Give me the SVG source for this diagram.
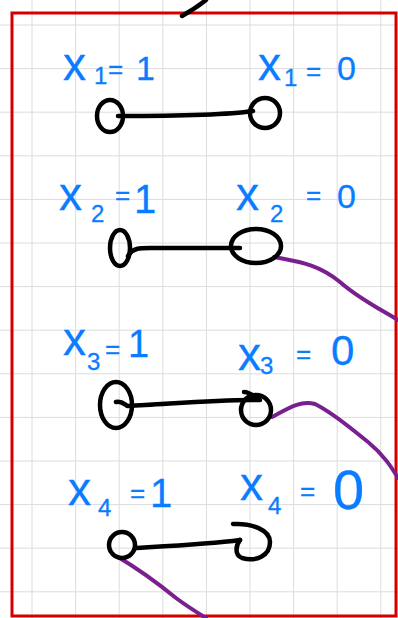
<svg xmlns="http://www.w3.org/2000/svg" width="398" height="618" viewBox="0 0 398 618">
<style>
.grid{stroke:#dcdcdc;stroke-width:1}
.ink{fill:none;stroke:#000;stroke-width:4.5;stroke-linecap:round;stroke-linejoin:round}
.wire{fill:none;stroke:#7a1f8e;stroke-width:4;stroke-linecap:round;stroke-linejoin:round}
.lbl{font-family:"Liberation Sans",Arial,sans-serif;font-size:46px;fill:#0a7cff;stroke:#0a7cff;stroke-width:0.3}
.sub{font-size:24px}
.eq{font-size:26px}
.d{font-size:34px}
</style>
<rect width="398" height="618" fill="#fff"/>
<g id="grid">
<path class="grid" d="M32 0V618M75.6 0V618M119.2 0V618M162.8 0V618M206.4 0V618M250 0V618M293.6 0V618M337.2 0V618M380.8 0V618"/>
<path class="grid" d="M0 25H398M0 68.6H398M0 112.2H398M0 155.8H398M0 199.4H398M0 243H398M0 286.6H398M0 330.2H398M0 373.8H398M0 417.4H398M0 461H398M0 504.6H398M0 548.2H398M0 591.8H398"/>
</g>
<rect x="12" y="13" width="384" height="603" fill="none" stroke="#d40000" stroke-width="3"/>
<path class="ink" d="M182 16 Q196 8 206 0" stroke-width="3"/>

<g id="connectors">
<path class="wire" d="M274 257 C300 262 318 264 340 282 C358 298 378 308 398 320"/>
<path class="wire" d="M272 417 C290 407 302 400 315 404 C335 414 350 428 368 442 C384 455 392 468 398 478"/>
<path class="wire" d="M118 557 C140 570 160 585 176 598 C188 607 198 613 206 618"/>
</g>

<g id="row1">
<text class="lbl" x="63" y="80">x<tspan class="sub" x="94" y="84">1</tspan><tspan class="eq" x="108" y="78">=</tspan><tspan class="d" x="136" y="80">1</tspan></text>
<text class="lbl" x="258" y="80">x<tspan class="sub" x="284" y="86">1</tspan><tspan class="eq" x="306" y="80">=</tspan><tspan class="d" x="337" y="80">0</tspan></text>
<ellipse class="ink" cx="110" cy="116" rx="13" ry="16"/>
<circle class="ink" cx="265" cy="113" r="15"/>
<path class="ink" d="M118 116 C160 116 220 116 253 111"/>
</g>

<g id="row2">
<text class="lbl" x="59" y="210">x<tspan class="sub" x="91" y="222">2</tspan><tspan class="eq" x="115" y="204">=</tspan><tspan class="d" x="134" y="213" style="font-size:40px">1</tspan></text>
<text class="lbl" x="236" y="210">x<tspan class="sub" x="270" y="222">2</tspan><tspan class="eq" x="306" y="204">=</tspan><tspan class="d" x="337" y="208">0</tspan></text>
<ellipse class="ink" cx="120" cy="248" rx="10" ry="18"/>
<ellipse class="ink" cx="256" cy="246" rx="25" ry="17"/>
<path class="ink" d="M128 256 C132 248 140 248 150 248 C180 248 215 248 240 248"/>
</g>

<g id="row3">
<text class="lbl" x="63" y="355">x<tspan class="sub" x="87" y="370">3</tspan><tspan class="eq" x="105" y="358">=</tspan><tspan class="d" x="128" y="357" style="font-size:38px">1</tspan></text>
<text class="lbl" x="238" y="370">x<tspan class="sub" x="260" y="374">3</tspan><tspan class="eq" x="296" y="363">=</tspan><tspan class="d" x="331" y="365" style="font-size:42px">0</tspan></text>
<ellipse class="ink" cx="116" cy="405" rx="16" ry="23"/>
<circle class="ink" cx="256" cy="410" r="15"/>
<path class="ink" d="M116 402 C122 400 126 406 128 406 C170 404 220 399 260 400 C252 394 246 392 244 392"/>
</g>

<g id="row4">
<text class="lbl" x="68" y="505">x<tspan class="sub" x="98" y="516">4</tspan><tspan class="eq" x="130" y="502">=</tspan><tspan class="d" x="150" y="507" style="font-size:40px">1</tspan></text>
<text class="lbl" x="240" y="500">x<tspan class="sub" x="268" y="514">4</tspan><tspan class="eq" x="300" y="500">=</tspan><tspan class="d" x="333" y="509" style="font-size:56px">0</tspan></text>
<circle class="ink" cx="122" cy="545" r="13"/>
<path class="ink" d="M233 524 C252 523 270 530 270 542 C270 556 256 562 242 558 C234 555 236 545 240 540"/>
<path class="ink" d="M136 548 C170 546 210 544 240 540"/>
</g>
</svg>
